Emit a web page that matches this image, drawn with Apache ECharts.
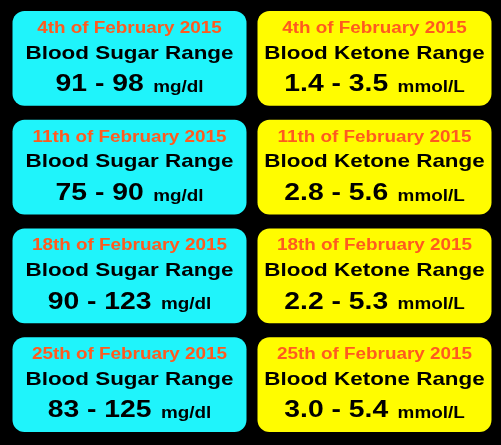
<!DOCTYPE html>
<html>
<head>
<meta charset="utf-8">
<script src="https://cdn.jsdelivr.net/npm/echarts@6/dist/echarts.min.js"></script>
<style>
  html, body { margin: 0; padding: 0; background: #000; }
  #main { width: 501px; height: 445px; }
</style>
</head>
<body>
<div id="main"></div>
<script>
// 数据
var dates = ['4th of February 2015', '11th of February 2015', '18th of February 2015', '25th of February 2015'];
var kinds = ['Blood Sugar Range', 'Blood Ketone Range'];
var units = ['mg/dl', 'mmol/L'];
var sugarLow = [91, 75, 90, 83];
var sugarHigh = [98, 90, 123, 125];
var ketoneLow = [1.4, 2.8, 2.2, 3.0];
var ketoneHigh = [3.5, 5.6, 5.3, 5.4];

var boxColors = ['#1ff4fb', '#fffc00'];
var font = '"Liberation Sans", Arial, Helvetica, sans-serif';

var cells = [];
dates.forEach(function (d, i) {
    cells.push([0, i, sugarLow[i], sugarHigh[i]]);
    cells.push([1, i, ketoneLow[i], ketoneHigh[i]]);
});

function renderCell(params, api) {
    var col = api.value(0);
    var row = api.value(1);
    var c = api.coord([col, row]);
    var size = api.size([1, 1]);
    var w = size[0] - 11;
    var h = size[1] - 14;
    var lo = api.value(2), hi = api.value(3);
    var range = col === 0 ? lo + ' - ' + hi : lo.toFixed(1) + ' - ' + hi.toFixed(1);
    return {
        type: 'group',
        children: [
            {
                type: 'rect',
                shape: { x: c[0] - w / 2, y: c[1] - h / 2, width: w, height: h, r: 12 },
                style: { fill: boxColors[col] }
            },
            {
                type: 'group',
                x: c[0],
                y: c[1],
                scaleX: 1.18,
                children: [
                    {
                        type: 'text', x: 0, y: -30,
                        style: {
                            text: dates[row], fill: '#ff5a1f', fontFamily: font,
                            fontWeight: 'bold', fontSize: 16, align: 'center', verticalAlign: 'middle'
                        }
                    },
                    {
                        type: 'text', x: 0, y: -5,
                        style: {
                            text: kinds[col], fill: '#000', fontFamily: font,
                            fontWeight: 'bold', fontSize: 19, align: 'center', verticalAlign: 'middle'
                        }
                    },
                    {
                        type: 'text', x: 0, y: 26,
                        style: {
                            text: '{v|' + range + '}{u|' + units[col] + '}',
                            fill: '#000', fontFamily: font, fontWeight: 'bold',
                            align: 'center', verticalAlign: 'middle',
                            rich: {
                                v: { fontSize: 24, fontWeight: 'bold', fontFamily: font, fill: '#000', lineHeight: 30 },
                                u: { fontSize: 16, fontWeight: 'bold', fontFamily: font, fill: '#000', lineHeight: 30, padding: [6, 0, 0, 8] }
                            }
                        }
                    }
                ]
            }
        ]
    };
}

var chart = echarts.init(document.getElementById('main'));
var option = {
    backgroundColor: '#000',
    animation: false,
    grid: { left: 7, right: 4, top: 4, bottom: 6 },
    xAxis: { type: 'category', data: kinds, show: false },
    yAxis: { type: 'category', data: dates, inverse: true, show: false },
    series: [{
        type: 'custom',
        renderItem: renderCell,
        data: cells,
        encode: { x: 0, y: 1 }
    }]
};
chart.setOption(option);
</script>
</body>
</html>
